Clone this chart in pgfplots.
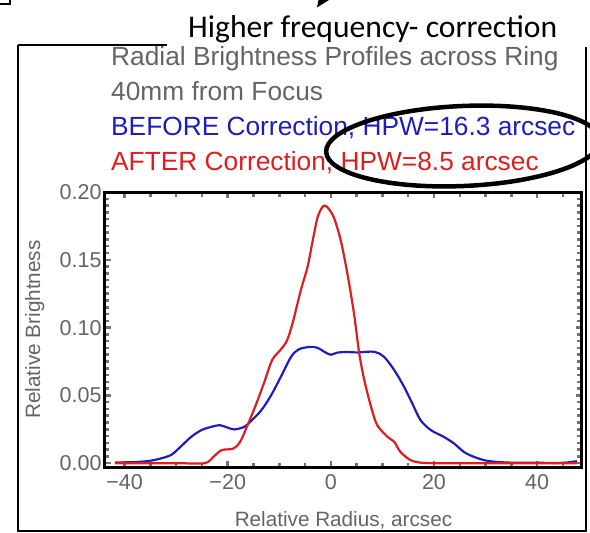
\documentclass[border=0pt]{standalone}
\usepackage{pgfplots}
\pgfplotsset{compat=1.18}
\usepackage{fontspec}
\setmainfont{Liberation Sans}
\newfontfamily\calibri{Carlito}
\definecolor{mgray}{RGB}{100,100,100}
\definecolor{mblue}{RGB}{30,30,185}
\definecolor{mred}{RGB}{220,30,30}
\definecolor{tickgray}{RGB}{115,115,115}
\pgfplotstableread{
x y
-41.9 0.0005
-38 0.0008
-35 0.0018
-33 0.0035
-31 0.006
-29.6 0.0105
-27.1 0.0194
-25.1 0.0244
-23.2 0.0268
-21.5 0.0280
-20 0.0262
-18.7 0.0249
-16.8 0.0268
-15.5 0.0310
-13.5 0.0390
-11.6 0.0500
-9.7 0.0637
-7.7 0.0785
-6.2 0.0840
-4.0 0.0858
-2.5 0.0850
-1.2 0.0820
0 0.0800
1.2 0.0815
3 0.0820
5.2 0.0817
8.4 0.0822
10.3 0.0785
12.3 0.0686
14.2 0.0563
15.8 0.0440
17.4 0.0317
19.4 0.0244
21.9 0.0194
23.9 0.0145
25.8 0.0083
27.8 0.0046
30.4 0.0017
34.2 0.0005
40 0.0003
45 0.0003
47.7 0.0015
}\before
\pgfplotstableread{
x y
-41.9 0.0
-30 0.0
-24.5 0.0
-22.8 0.0046
-21.2 0.0096
-18.9 0.0108
-17.6 0.0157
-16.3 0.0268
-14.7 0.0415
-13.0 0.0588
-11.4 0.0760
-9.8 0.0834
-8.5 0.0905
-7.3 0.1050
-5.8 0.1280
-4.5 0.1450
-3.5 0.1646
-2.6 0.1810
-1.8 0.1880
-1.2 0.1900
-0.5 0.1880
0.6 0.1810
1.9 0.1646
3.2 0.1400
4.5 0.1100
5.5 0.0810
6.5 0.0610
7.8 0.0415
9.0 0.0280
11.0 0.0194
12.3 0.0157
13.5 0.0083
15.5 0.0022
18.1 0.0002
25 0.0
35 0.0
47.7 0.0
}\after
\begin{document}
\begin{tikzpicture}[x=1pt,y=1pt]
\useasboundingbox (0,0) rectangle (590,-533);
% fragments of the slide
\draw[line width=1.5pt] (0,-4) -- (10,-4) -- (10,0);
\fill (317,-7.5) -- (318.5,0) -- (329,0) -- cycle;
\draw[line width=1.8pt] (18,-45) -- (167,-45);
\draw[line width=1.8pt] (18,-45) -- (18,-531) -- (586,-531) -- (586,-47);
\node[anchor=base west, inner sep=0pt, font=\calibri\fontsize{31.6}{36}\selectfont] at (188,-37) {Higher frequency- correction};
% titles
\begin{scope}[every node/.style={anchor=base west, inner sep=0pt, font=\fontsize{26.3}{30}\selectfont}]
\node[text=mgray] at (111,-65) {Radial Brightness Profiles across Ring};
\node[text=mgray] at (111,-100) {40mm from Focus};
\node[text=mblue] at (111,-135) {BEFORE Correction, HPW=16.3 arcsec};
\node[text=mred] at (111,-170) {AFTER Correction, HPW=8.5 arcsec};
\end{scope}
\draw[line width=4.5pt, rotate around={2.5:(463,-146)}] (463,-146) ellipse [x radius=137, y radius=40];
\begin{axis}[
  at={(105pt,-467pt)}, anchor=south west,
  scale only axis, width=477pt, height=275pt,
  xmin=-43.8, xmax=48.7, ymin=-0.0028, ymax=0.2,
  axis line style={line width=3pt, black},
  tick align=inside,
  major tick length=6pt, minor tick length=4.5pt,
  every tick/.style={tickgray, line width=2.5pt},
  xtick={-40,-20,0,20,40},
  xticklabels={−40,−20,0,20,40},
  minor xtick={-40,-35,...,45},
  ytick={0,0.05,0.1,0.15,0.2},
  yticklabels={0.00,0.05,0.10,0.15,0.20},
  minor ytick={0,0.005,...,0.2},
  tick label style={font=\fontsize{21.5}{24}\selectfont, text=mgray},
  xticklabel style={yshift=-4pt},
  xlabel={Relative Radius, arcsec},
  ylabel={Relative Brightness},
  label style={font=\fontsize{20.7}{24}\selectfont, text=mgray},
  xlabel style={at={(axis description cs:0.5,-0.193)}, anchor=center},
  ylabel style={at={(axis description cs:-0.147,0.5)}, anchor=center},
  clip=true,
]
\addplot[mblue, line width=2.2pt, smooth, tension=0.5] table[x=x,y=y] {\before};
\addplot[mred, line width=2.2pt, smooth, tension=0.5] table[x=x,y=y] {\after};
\end{axis}
\end{tikzpicture}
\end{document}
